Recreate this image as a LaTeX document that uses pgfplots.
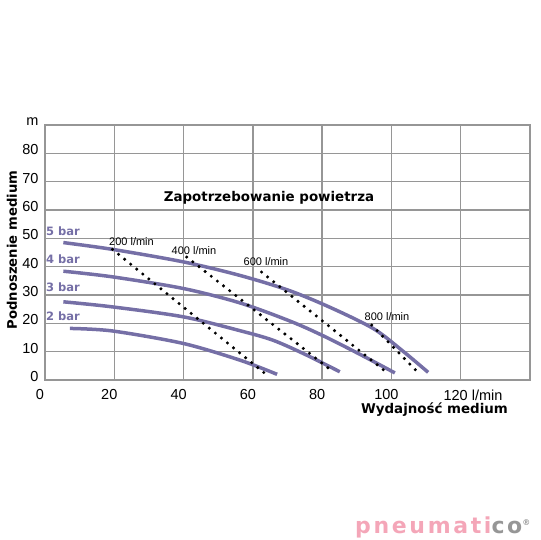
\documentclass[border=0pt]{standalone}
\usepackage{pgfplots}
\pgfplotsset{compat=1.18}
\usepackage{fontspec}
\setmainfont{Liberation Sans}
\newfontfamily\heavy{DejaVu Sans}
\newfontfamily\logofont{DejaVu Sans}[LetterSpace=12]
\definecolor{curvecol}{RGB}{117,111,166}
\definecolor{gridcol}{RGB}{150,150,150}
\definecolor{logopink}{RGB}{244,166,184}
\definecolor{logogray}{RGB}{150,150,150}
\begin{document}
\begin{tikzpicture}[x=1pt,y=1pt]
\useasboundingbox (0,0) rectangle (540,540);
\begin{axis}[
  at={(45pt,160pt)}, anchor=south west,
  scale only axis, width=485pt, height=255pt,
  xmin=0, xmax=140, ymin=0, ymax=90,
  xtick={0,20,...,140}, ytick={0,10,...,90},
  xticklabels={0,20,40,60,80,100,120\rlap{ l/min},},
  yticklabels={0,10,20,30,40,50,60,70,80,m},
  major tick length=0pt,
  grid=major,
  grid style={gridcol, line width=1.3pt},
  axis line style={gridcol, line width=1.3pt},
  /pgf/number format/assume math mode=true,
  ticklabel style={font=\fontsize{14.5}{14.5}\selectfont, text=black},
  xticklabel style={xshift=-5pt, yshift=-6pt},
  yticklabel style={yshift=3.5pt, xshift=-3pt},
  clip=false,
]
\addplot[curvecol, line width=3.5pt, smooth] coordinates {(5.3,48.5) (19.5,46.1) (39.9,41.7) (56,37) (70,31.8) (82,25.8) (94.7,18.2) (103,10.5) (110.6,2.7)};
\addplot[curvecol, line width=3.5pt, smooth] coordinates {(5.3,38.4) (19.5,36.4) (39.9,32.3) (56.3,27.2) (70.7,20.8) (80.3,15.6) (91,9) (101,2.5)};
\addplot[curvecol, line width=3.5pt, smooth] coordinates {(5.3,27.6) (19.5,25.8) (39.9,22.3) (56.3,17.4) (65.9,14.0) (75.5,8.8) (85.1,2.9)};
\addplot[curvecol, line width=3.5pt, smooth] coordinates {(7.2,18.2) (19.5,17.3) (39.9,12.9) (56.3,7) (67,2)};
\addplot[black, line width=3.4pt, line cap=round, dash pattern=on 0pt off 7.8pt] coordinates {(19.5,46.1) (64,1.8)};
\addplot[black, line width=3.4pt, line cap=round, dash pattern=on 0pt off 7.8pt] coordinates {(40.9,43.4) (81.7,4.3)};
\addplot[black, line width=3.4pt, line cap=round, dash pattern=on 0pt off 7.8pt] coordinates {(62.5,38.1) (99,2.3)};
\addplot[black, line width=3.4pt, line cap=round, dash pattern=on 0pt off 7.8pt] coordinates {(94.3,19.4) (108.2,2)};
\end{axis}
\node[font=\heavy\bfseries\fontsize{13.4}{13.4}\selectfont] at (269,342) {Zapotrzebowanie powietrza};
\node[font=\heavy\bfseries\fontsize{13.2}{13.2}\selectfont, rotate=90] at (12,290) {Podnoszenie medium};
\node[font=\heavy\bfseries\fontsize{13.4}{13.4}\selectfont] at (434.5,130) {Wydajność medium};
\foreach \t/\y in {5/309,4/281,3/253,2/224}{
  \node[font=\heavy\bfseries\fontsize{11.5}{11.5}\selectfont, text=curvecol, anchor=west, inner sep=0pt] at (46,\y) {\t\ bar};
}
\node[font=\fontsize{11}{11}\selectfont] at (131.5,298.5) {200 l/min};
\node[font=\fontsize{11}{11}\selectfont] at (194,289) {400 l/min};
\node[font=\fontsize{11}{11}\selectfont] at (266,278) {600 l/min};
\node[font=\fontsize{11}{11}\selectfont] at (387,223) {800 l/min};
\node[font=\logofont\bfseries\fontsize{22}{22}\selectfont, inner sep=0pt] at (443,13) {\textcolor{logopink}{pneumati}\textcolor{logogray}{co}\textsuperscript{\textcolor{logogray}{\fontsize{8}{8}\selectfont ®}}};
\end{tikzpicture}
\end{document}
